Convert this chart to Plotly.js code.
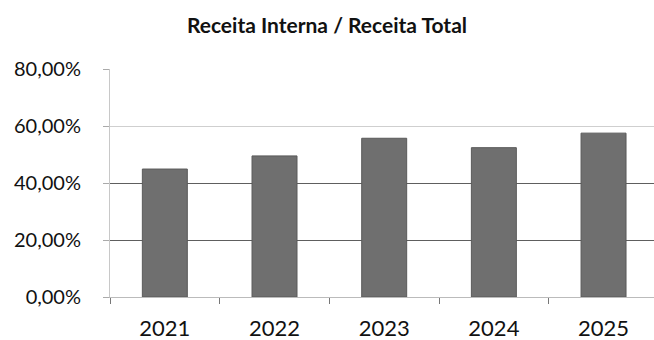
<!DOCTYPE html>
<html><head><meta charset="utf-8">
<script src="https://cdn.plot.ly/plotly-3.0.1.min.js"></script>
<style>body{margin:0;background:#fff}#c{width:654px;height:340px}</style>
</head><body><div id="c"></div>
<script>
const years = ['2021','2022','2023','2024','2025'];
const ratio = [44.9, 49.5, 55.7, 52.4, 57.5];
const yTicks = [0, 20, 40, 60, 80];
const yTickText = ['0,00%', '20,00%', '40,00%', '60,00%', '80,00%'];
const darkGrid = [20, 40];

const font = 'Lato, "Open Sans", sans-serif';
const data = [
  {type:'bar', x: years, y: ratio, marker:{color:'#6f6f6f', line:{color:'#5a5a5a', width:1}}, hoverinfo:'none'},
  {type:'scatter', x: years, y: ratio, yaxis:'y2', mode:'none', showlegend:false, hoverinfo:'none'}
];
const layout = {
  width:654, height:340, showlegend:false,
  paper_bgcolor:'#fff', plot_bgcolor:'rgba(0,0,0,0)',
  margin:{l:110, r:0, t:69, b:43},
  bargap:0.59,
  font:{family:font, color:'#1a1a1a'},
  title:{text:'<b>Receita Interna / Receita Total</b>', font:{family:font, size:21, color:'#111'}, x:0.5, xanchor:'center', y:0.925, yanchor:'middle'},
  xaxis:{type:'category', range:[-0.5, 4.46], tickson:'boundaries', ticks:'outside', ticklen:6, tickcolor:'#777',
         showline:true, linecolor:'#bbb', showgrid:false, tickfont:{size:22, color:'#111'}, ticklabelstandoff:12},
  yaxis:{range:[0,80], tickvals:yTicks, ticktext:yTickText,
         showline:true, linecolor:'#c8c8c8', ticks:'outside', ticklen:6, tickcolor:'#aaa',
         gridcolor:'#cfcfcf', gridwidth:1, zeroline:false, tickfont:{size:20, color:'#111'}, ticklabelstandoff:18},
  yaxis2:{range:[0,80], overlaying:'y', tickvals:darkGrid, showticklabels:false, gridcolor:'#5e5e5e', gridwidth:1, zeroline:false, layer:'below traces'}
};
Plotly.newPlot('c', data, layout, {staticPlot:true, displayModeBar:false});
</script></body></html>
